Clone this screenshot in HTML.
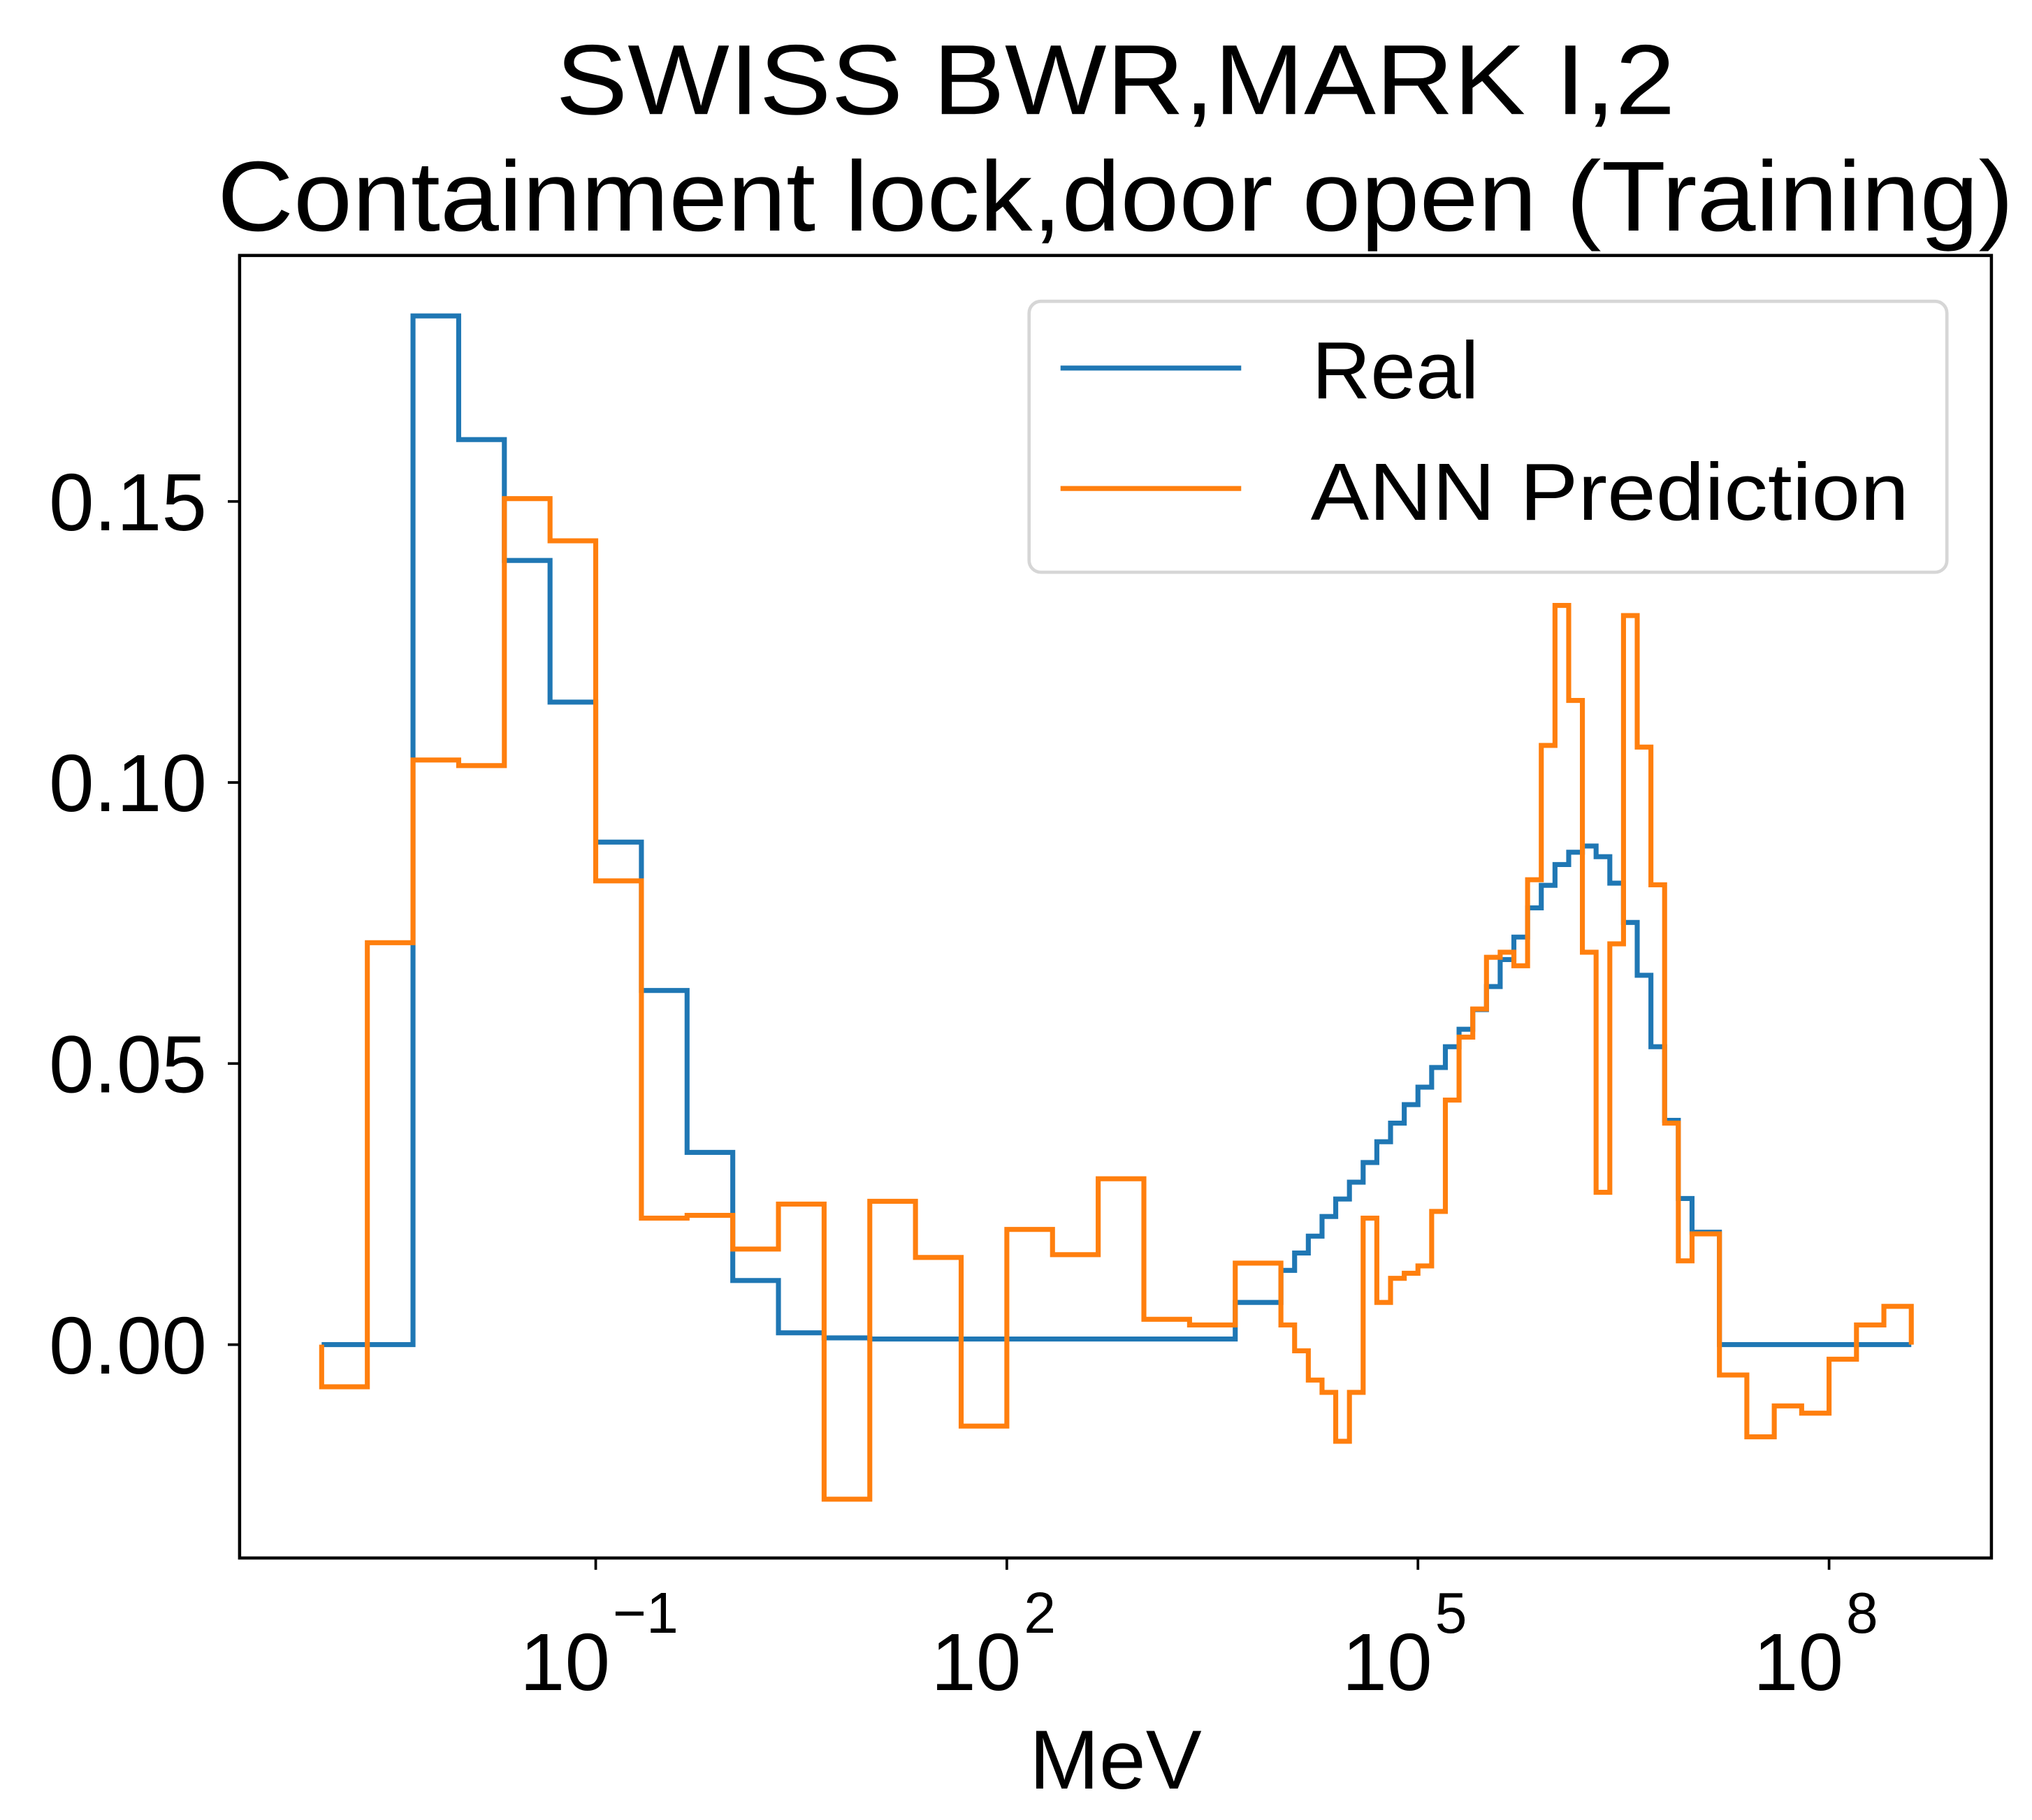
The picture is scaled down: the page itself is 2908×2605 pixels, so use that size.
<!DOCTYPE html>
<html><head><meta charset="utf-8"><style>
html,body{margin:0;padding:0;background:#fff;}
svg{display:block;font-family:"Liberation Sans",Arial,sans-serif;}
</style></head><body>
<svg id="chart" width="2908" height="2605" viewBox="0 0 1552 1390">
<rect x="0" y="0" width="1552" height="1390" fill="#fff"/>
<text x="852" y="87" font-size="76" text-anchor="middle" textLength="855" lengthAdjust="spacingAndGlyphs">SWISS BWR,MARK I,2</text>
<text x="852" y="176" font-size="76" text-anchor="middle" textLength="1372" lengthAdjust="spacingAndGlyphs">Containment lock,door open (Training)</text>
<g id="plot"></g>
<g id="axes"></g>
<g id="legend">
<rect x="786" y="230" width="701" height="207" rx="9" fill="#fff" fill-opacity="0.8" stroke="#d6d6d6" stroke-width="2.5"/>
<line x1="810" y1="281" x2="948" y2="281" stroke="#1f77b4" stroke-width="3.8"/>
<text x="1002" y="304" font-size="62">Real</text>
<line x1="810" y1="373" x2="948" y2="373" stroke="#ff7f0e" stroke-width="3.8"/>
<text x="1001" y="397" font-size="62" textLength="457" lengthAdjust="spacingAndGlyphs">ANN Prediction</text>
</g>
<text x="852" y="1366" font-size="64" text-anchor="middle">MeV</text>
</svg>
<script>
// bin edges in log10(MeV)
const coarseEdgesStart = -3, coarseStep = 1/3, coarseCount = 21;
const fineStep = 0.1, fineCount = 30;
const tailStep = 0.2, tailCount = 8;
const realValues = [0,0,0.183,0.161,0.1395,0.1143,0.0894,0.063,0.0342,0.0114,0.0021,0.0012,0.001,0.001,0.001,0.001,0.001,0.001,0.001,0.001,0.0075,
 0.0132,0.0163,0.0193,0.0228,0.0259,0.0289,0.0324,0.0361,0.0394,0.0427,0.0458,0.0493,0.053,0.0561,0.0596,0.0637,0.0685,0.0725,0.0777,0.0817,0.0854,0.0876,0.0887,0.0868,0.0821,0.0751,0.0657,0.053,0.0399,0.026,
 0.02,0,0,0,0,0,0,0];
const annValues = [-0.0075,0.0715,0.104,0.103,0.1505,0.143,0.0825,0.0225,0.023,0.017,0.025,-0.0275,0.0255,0.0155,-0.0145,0.0205,0.016,0.0295,0.0045,0.0035,0.0145,
 0.0035,-0.0011,-0.0063,-0.0085,-0.0172,-0.0085,0.0225,0.0075,0.0118,0.0127,0.014,0.0237,0.0435,0.0547,0.0597,0.0689,0.0698,0.0674,0.0827,0.1066,0.1315,0.1146,0.0698,0.0271,0.0713,0.1297,0.1063,0.0818,0.0394,0.0149,
 0.0197,-0.0054,-0.0164,-0.0109,-0.0122,-0.0026,0.0035,0.0068];
const yTicks = [0, 0.05, 0.10, 0.15];
const yTickLabels = ["0.00","0.05","0.10","0.15"];
const xTicks = [-1, 2, 5, 8];
const xTickExps = ["\u22121","2","5","8"];

const NS = "http://www.w3.org/2000/svg";
const L = 183, R = 1521, T = 195, B = 1190;
function xs(lg){ return 455 + (lg + 1) * 104.667; }
function ys(v){ return 1027 - v * 4294; }

const edges = [];
for (let i = 0; i <= coarseCount; i++) edges.push(coarseEdgesStart + i * coarseStep);
let last = edges[edges.length - 1];
for (let i = 1; i <= fineCount; i++) edges.push(last + i * fineStep);
last = edges[edges.length - 1];
for (let i = 1; i <= tailCount; i++) edges.push(last + i * tailStep);

function stepPath(vals){
  let d = "M" + xs(edges[0]).toFixed(2) + "," + ys(0).toFixed(2);
  for (let i = 0; i < vals.length; i++) {
    d += " L" + xs(edges[i]).toFixed(2) + "," + ys(vals[i]).toFixed(2);
    d += " L" + xs(edges[i+1]).toFixed(2) + "," + ys(vals[i]).toFixed(2);
  }
  d += " L" + xs(edges[vals.length]).toFixed(2) + "," + ys(0).toFixed(2);
  return d;
}
const plot = document.getElementById("plot");
const p1 = document.createElementNS(NS, "path");
p1.setAttribute("d", stepPath(realValues));
p1.setAttribute("fill", "none"); p1.setAttribute("stroke", "#1f77b4"); p1.setAttribute("stroke-width", "3.8");


plot.appendChild(p1);
const p2 = document.createElementNS(NS, "path");
p2.setAttribute("d", stepPath(annValues));
p2.setAttribute("fill", "none"); p2.setAttribute("stroke", "#ff7f0e"); p2.setAttribute("stroke-width", "3.8");


plot.appendChild(p2);

const axes = document.getElementById("axes");
const frame = document.createElementNS(NS, "rect");
frame.setAttribute("x", L); frame.setAttribute("y", T);
frame.setAttribute("width", R - L); frame.setAttribute("height", B - T);
frame.setAttribute("fill", "none"); frame.setAttribute("stroke", "#000"); frame.setAttribute("stroke-width", "2.4");


axes.appendChild(frame);

yTicks.forEach((v, i) => {
  const y = ys(v);
  const t = document.createElementNS(NS, "line");
  t.setAttribute("x1", L - 9); t.setAttribute("x2", L); t.setAttribute("y1", y); t.setAttribute("y2", y);
  t.setAttribute("stroke", "#000"); t.setAttribute("stroke-width", "2");
  
  
  axes.appendChild(t);
  const lb = document.createElementNS(NS, "text");
  lb.setAttribute("x", 158); lb.setAttribute("y", y + 22);
  lb.setAttribute("font-size", "62"); lb.setAttribute("text-anchor", "end");
  lb.textContent = yTickLabels[i];
  
  
  axes.appendChild(lb);
});
xTicks.forEach((lg, i) => {
  const x = xs(lg);
  const t = document.createElementNS(NS, "line");
  t.setAttribute("x1", x); t.setAttribute("x2", x); t.setAttribute("y1", B); t.setAttribute("y2", B + 9);
  t.setAttribute("stroke", "#000"); t.setAttribute("stroke-width", "2");
  
  
  axes.appendChild(t);
  const lb = document.createElementNS(NS, "text");
  lb.setAttribute("x", x - 58); lb.setAttribute("y", 1291);
  lb.setAttribute("font-size", "62");
  lb.textContent = "10";
  
  
  axes.appendChild(lb);
  const ex = document.createElementNS(NS, "text");
  ex.setAttribute("x", x + 13); ex.setAttribute("y", 1247);
  ex.setAttribute("font-size", "44");
  ex.textContent = xTickExps[i];
  
  
  axes.appendChild(ex);
});
</script>
</body></html>
